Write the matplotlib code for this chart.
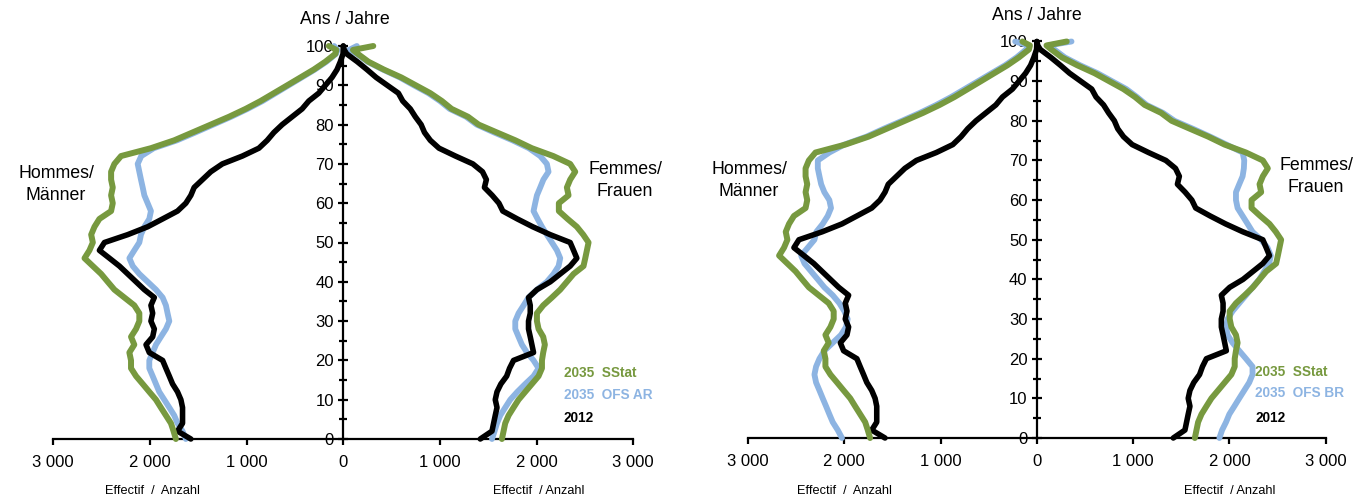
import numpy as np
import matplotlib
matplotlib.use("Agg")
import matplotlib.pyplot as plt
from matplotlib.ticker import MultipleLocator, FuncFormatter

plt.rcParams['font.family'] = ['Liberation Sans', 'DejaVu Sans']

# ---------------- data (age 0..98 every 2 years, then 99 and 100+) ----------------
ages = list(range(0, 99, 2)) + [99, 100]

# 2035 SStat (same in both panels)
sstat_m = [1732, 1756, 1783, 1835, 1887, 1938, 2007, 2075, 2144, 2196,
           2196, 2213, 2162, 2196, 2144, 2110, 2110, 2162, 2265, 2368,
           2437, 2505, 2591, 2677, 2626, 2591, 2608, 2574, 2523, 2402,
           2385, 2402, 2385, 2402, 2402, 2368, 2299, 1990, 1749, 1560,
           1371, 1182, 1010, 856, 718, 580, 443, 306, 186, 82,
           72, 150]
sstat_f = [1641, 1658, 1675, 1710, 1761, 1813, 1882, 1951, 2020, 2055,
           2055, 2068, 2085, 2068, 2020, 2003, 2003, 2068, 2158, 2244,
           2313, 2382, 2485, 2503, 2520, 2537, 2482, 2416, 2320, 2230,
           2230, 2330, 2313, 2347, 2399, 2347, 2172, 1950, 1780, 1589,
           1400, 1290, 1120, 1020, 900, 750, 600, 420, 260, 150,
           100, 310]

# 2035 OFS AR (left panel)
ofs_ar_m = [1629, 1663, 1715, 1749, 1800, 1852, 1904, 1938, 1972, 2007,
            2007, 1972, 1938, 1887, 1835, 1800, 1818, 1835, 1869, 1938,
            2024, 2110, 2178, 2213, 2162, 2110, 2093, 2058, 2007, 1990,
            2024, 2058, 2075, 2093, 2110, 2127, 2090, 1960, 1720, 1530,
            1345, 1160, 990, 835, 700, 565, 430, 295, 175, 75,
            60, 95]
ofs_ar_f = [1538, 1565, 1590, 1624, 1675, 1727, 1800, 1882, 1968, 2020,
            1968, 1900, 1848, 1813, 1779, 1779, 1813, 1865, 1916, 2003,
            2106, 2175, 2227, 2244, 2210, 2158, 2106, 2055, 2010, 1968,
            1985, 2003, 2037, 2070, 2123, 2106, 2037, 1920, 1750, 1560,
            1380, 1270, 1100, 1000, 880, 730, 585, 410, 250, 140,
            60, 140]

# 2035 OFS BR (right panel)
ofs_br_m = [2024, 2068, 2120, 2155, 2189, 2224, 2258, 2293, 2310, 2293,
            2258, 2207, 2120, 2034, 1982, 1965, 2000, 2051, 2120, 2207,
            2275, 2344, 2413, 2448, 2379, 2310, 2290, 2224, 2172, 2138,
            2155, 2207, 2240, 2258, 2275, 2275, 2155, 2000, 1770, 1590,
            1400, 1215, 1045, 890, 750, 610, 470, 330, 210, 110,
            90, 225]
ofs_br_f = [1896, 1924, 1965, 1999, 2051, 2102, 2154, 2206, 2240, 2240,
            2172, 2102, 2033, 1981, 1965, 1981, 2033, 2102, 2172, 2240,
            2310, 2361, 2413, 2430, 2396, 2330, 2240, 2189, 2137, 2085,
            2068, 2068, 2102, 2137, 2150, 2154, 2137, 1970, 1800, 1620,
            1430, 1310, 1140, 1040, 930, 780, 630, 450, 290, 180,
            120, 360]

# 2012 (same in both panels)
y2012_m = [1577, 1715, 1663, 1663, 1663, 1680, 1715, 1766, 1800, 1835,
           1869, 2007, 2041, 1972, 1955, 1990, 1972, 1990, 1955, 2058,
           2144, 2230, 2316, 2419, 2523, 2471, 2230, 2024, 1869, 1715,
           1629, 1577, 1543, 1457, 1371, 1251, 1044, 873, 787, 718,
           632, 529, 426, 357, 254, 185, 117, 65, 31, 3,
           1, 0]
y2012_f = [1417, 1538, 1555, 1572, 1590, 1572, 1590, 1630, 1690, 1720,
           1761, 1968, 1951, 1934, 1916, 1916, 1934, 1934, 1916, 2003,
           2141, 2244, 2347, 2416, 2382, 2347, 2140, 1960, 1800, 1650,
           1610, 1540, 1460, 1480, 1440, 1340, 1160, 990, 900, 840,
           805, 745, 693, 615, 570, 455, 340, 245, 145, 35,
           10, 0]

xticks = [-3000, -2000, -1000, 0, 1000, 2000, 3000]
title_txt = "Ans / Jahre"
men_txt = ["Hommes/", "Männer"]
women_txt = ["Femmes/", "Frauen"]
xlabel_txt = ["Effectif  /  Anzahl", "Effectif  / Anzahl"]
leg_left = ["2035  SStat", "2035  OFS AR", "2012"]
leg_right = ["2035  SStat", "2035  OFS BR", "2012"]

GREEN = '#77993F'
BLUE = '#8DB4E2'
BLACK = '#000000'

W, H = 1359, 499
fig = plt.figure(figsize=(W / 100, H / 100), dpi=100)


def fx(x):
    return x / W


def fy(y):
    return 1 - y / H


def setup(ax):
    ax.set_xlim(-3000, 3000)
    ax.set_ylim(0, 100)
    ax.patch.set_alpha(0)
    for s in ['top', 'right']:
        ax.spines[s].set_visible(False)
    ax.spines['left'].set_position(('data', 0))
    ax.spines['left'].set_linewidth(1.6)
    ax.spines['bottom'].set_linewidth(1.6)
    ax.set_xticks(xticks)
    ax.xaxis.set_major_formatter(
        FuncFormatter(lambda v, p: f"{abs(int(round(v))):,}".replace(',', ' ')))
    ax.yaxis.set_major_locator(MultipleLocator(10))
    ax.yaxis.set_minor_locator(MultipleLocator(5))
    ax.tick_params(axis='x', direction='out', length=4.5, width=1.6,
                   labelsize=12, pad=7)
    ax.tick_params(axis='y', which='major', direction='inout', length=7.5,
                   width=1.6, labelsize=12, pad=3)
    ax.tick_params(axis='y', which='minor', direction='inout', length=6,
                   width=1.6)


def draw(ax, blue_m, blue_f):
    a = np.array(ages)
    kw = dict(solid_joinstyle='round', solid_capstyle='round', clip_on=False)
    ax.plot(-np.array(blue_m), a, color=BLUE, lw=4.2, zorder=3, **kw)
    ax.plot(np.array(blue_f), a, color=BLUE, lw=4.2, zorder=3, **kw)
    ax.plot(-np.array(y2012_m), a, color=BLACK, lw=4.0, zorder=4, **kw)
    ax.plot(np.array(y2012_f), a, color=BLACK, lw=4.0, zorder=4, **kw)
    ax.plot(-np.array(sstat_m), a, color=GREEN, lw=4.3, zorder=5, **kw)
    ax.plot(np.array(sstat_f), a, color=GREEN, lw=4.3, zorder=5, **kw)


axL = fig.add_axes([fx(53.3), fy(439), fx(580), 393 / H])
setup(axL)
draw(axL, ofs_ar_m, ofs_ar_f)

axR = fig.add_axes([fx(748), fy(438), fx(577.7), 396.5 / H])
setup(axR)
draw(axR, ofs_br_m, ofs_br_f)

big = 12.8
# titles
fig.text(fx(345), fy(20), title_txt, ha='center', va='center', fontsize=big)
fig.text(fx(1037), fy(15), title_txt, ha='center', va='center', fontsize=big)

# sex labels
fig.text(fx(56), fy(173), men_txt[0], ha='center', va='center', fontsize=big)
fig.text(fx(56), fy(196), men_txt[1], ha='center', va='center', fontsize=big)
fig.text(fx(749), fy(169), men_txt[0], ha='center', va='center', fontsize=big)
fig.text(fx(749), fy(191), men_txt[1], ha='center', va='center', fontsize=big)
fig.text(fx(625), fy(169), women_txt[0], ha='center', va='center', fontsize=big)
fig.text(fx(625), fy(191), women_txt[1], ha='center', va='center', fontsize=big)
fig.text(fx(1316), fy(165), women_txt[0], ha='center', va='center', fontsize=big)
fig.text(fx(1316), fy(187), women_txt[1], ha='center', va='center', fontsize=big)

# x labels
fs_lab = 9.2
fig.text(fx(152), fy(491), xlabel_txt[0], ha='center', va='center', fontsize=fs_lab)
fig.text(fx(539), fy(491), xlabel_txt[1], ha='center', va='center', fontsize=fs_lab)
fig.text(fx(844), fy(491), xlabel_txt[0], ha='center', va='center', fontsize=fs_lab)
fig.text(fx(1230), fy(491), xlabel_txt[1], ha='center', va='center', fontsize=fs_lab)

# legends (coloured text)
fs_leg = 9.8
cols = [GREEN, BLUE, BLACK]
for txt, c, y in zip(leg_left, cols, [373, 395, 418]):
    fig.text(fx(564), fy(y), txt, ha='left', va='center', fontsize=fs_leg,
             fontweight='bold', color=c)
for txt, c, y in zip(leg_right, cols, [372, 393, 418]):
    fig.text(fx(1255), fy(y), txt, ha='left', va='center', fontsize=fs_leg,
             fontweight='bold', color=c)

fig.savefig("out.png", dpi=100)
